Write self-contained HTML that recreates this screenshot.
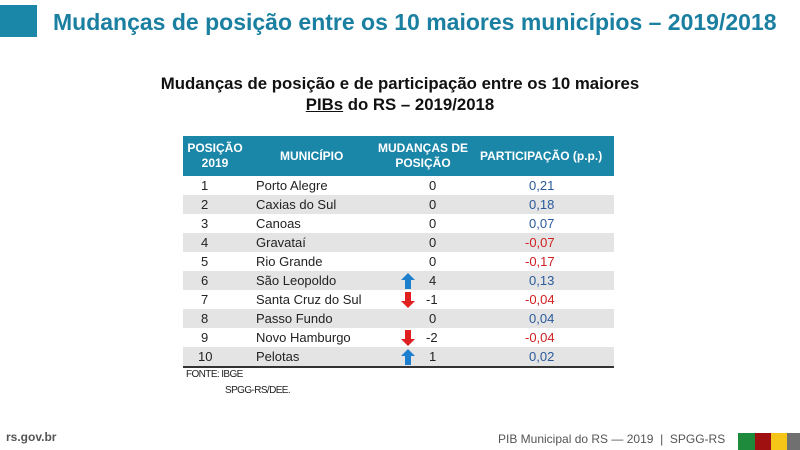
<!DOCTYPE html>
<html><head><meta charset="utf-8"><style>
body{margin:0;width:800px;height:450px;background:#fff;position:relative;overflow:hidden;font-family:"Liberation Sans",sans-serif}
.a{position:absolute;white-space:nowrap}
.row{position:absolute;left:183px;width:431px;height:19px;font-size:13px;color:#222}
.row span{position:absolute;top:2px}
.g{background:#e4e4e4}
.p{color:#2a5a9a}.n{color:#d02020}
</style></head><body>
<div class="a" style="left:0;top:5px;width:37px;height:32px;background:#1a86a8"></div>
<div class="a" style="left:53px;top:9px;font-size:23px;font-weight:bold;color:#1a7fa0">Mudanças de posição entre os 10 maiores municípios – 2019/2018</div>
<div class="a" style="left:0;width:800px;top:73px;text-align:center;font-size:16.8px;font-weight:bold;color:#111;line-height:21px">Mudanças de posição e de participação entre os 10 maiores<br><u>PIBs</u> do RS – 2019/2018</div>
<div class="a" style="left:183px;top:136px;width:431px;height:40px;background:#1a86a8;color:#fff;font-weight:bold;font-size:12px">
<div class="a" style="left:4px;width:56px;top:5px;text-align:center;line-height:15px">POSIÇÃO<br>2019</div>
<div class="a" style="left:97px;top:13px">MUNICÍPIO</div>
<div class="a" style="left:190px;width:100px;top:5px;text-align:center;line-height:15px">MUDANÇAS DE<br>POSIÇÃO</div>
<div class="a" style="left:297px;top:13px">PARTICIPAÇÃO (p.p.)</div>
</div>
<div class="row" style="top:176px"><span style="left:18px">1</span><span style="left:73px">Porto Alegre</span><span style="left:246px">0</span><span class="p" style="left:346px">0,21</span></div>
<div class="row g" style="top:195px"><span style="left:18px">2</span><span style="left:73px">Caxias do Sul</span><span style="left:246px">0</span><span class="p" style="left:346px">0,18</span></div>
<div class="row" style="top:214px"><span style="left:18px">3</span><span style="left:73px">Canoas</span><span style="left:246px">0</span><span class="p" style="left:346px">0,07</span></div>
<div class="row g" style="top:233px"><span style="left:18px">4</span><span style="left:73px">Gravataí</span><span style="left:246px">0</span><span class="n" style="left:342px">-0,07</span></div>
<div class="row" style="top:252px"><span style="left:18px">5</span><span style="left:73px">Rio Grande</span><span style="left:246px">0</span><span class="n" style="left:342px">-0,17</span></div>
<div class="row g" style="top:271px"><span style="left:18px">6</span><span style="left:73px">São Leopoldo</span><svg class="a" style="left:218px;top:2px" width="14" height="16"><polygon points="7,0 14,7 10,7 10,16 4,16 4,7 0,7" fill="#1e7fcf"/></svg><span style="left:246px">4</span><span class="p" style="left:346px">0,13</span></div>
<div class="row" style="top:290px"><span style="left:18px">7</span><span style="left:73px">Santa Cruz do Sul</span><svg class="a" style="left:218px;top:2px" width="14" height="16"><polygon points="4,0 10,0 10,9 14,9 7,16 0,9 4,9" fill="#e02020"/></svg><span style="left:243px">-1</span><span class="n" style="left:342px">-0,04</span></div>
<div class="row g" style="top:309px"><span style="left:18px">8</span><span style="left:73px">Passo Fundo</span><span style="left:246px">0</span><span class="p" style="left:346px">0,04</span></div>
<div class="row" style="top:328px"><span style="left:18px">9</span><span style="left:73px">Novo Hamburgo</span><svg class="a" style="left:218px;top:2px" width="14" height="16"><polygon points="4,0 10,0 10,9 14,9 7,16 0,9 4,9" fill="#e02020"/></svg><span style="left:243px">-2</span><span class="n" style="left:342px">-0,04</span></div>
<div class="row g" style="top:347px"><span style="left:15px">10</span><span style="left:73px">Pelotas</span><svg class="a" style="left:218px;top:2px" width="14" height="16"><polygon points="7,0 14,7 10,7 10,16 4,16 4,7 0,7" fill="#1e7fcf"/></svg><span style="left:246px">1</span><span class="p" style="left:346px">0,02</span></div>
<div class="a" style="left:183px;top:366px;width:431px;height:2px;background:#333"></div>
<div class="a" style="left:186px;top:369px;font-size:10px;letter-spacing:-0.6px;color:#222">FONTE: IBGE</div>
<div class="a" style="left:225px;top:385px;font-size:10px;letter-spacing:-0.6px;color:#222">SPGG-RS/DEE.</div>
<div class="a" style="left:6px;top:430px;font-size:12px;font-weight:bold;color:#555">rs.gov.br</div>
<div class="a" style="left:498px;top:432px;font-size:12px;color:#555">PIB Municipal do RS — 2019 &nbsp;| &nbsp;SPGG-RS</div>
<div class="a" style="left:738px;top:433px;width:17px;height:17px;background:#1e8a3c"></div>
<div class="a" style="left:755px;top:433px;width:16px;height:17px;background:#a01010"></div>
<div class="a" style="left:771px;top:433px;width:16px;height:17px;background:#f5c518"></div>
<div class="a" style="left:787px;top:433px;width:13px;height:17px;background:#707070"></div>
</body></html>
